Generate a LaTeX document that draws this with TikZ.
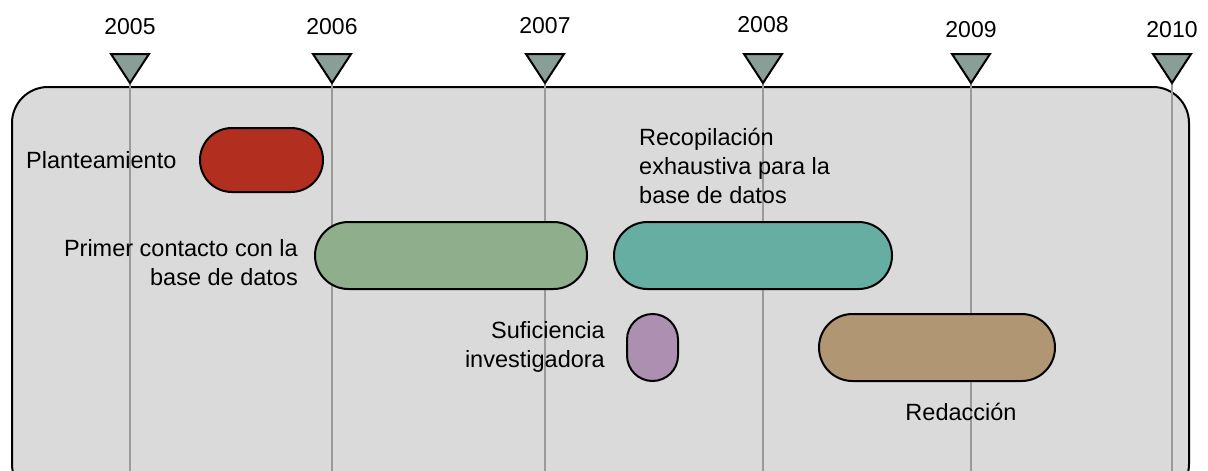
\documentclass[tikz,border=0pt]{standalone}
\usepackage{fontspec}
\setmainfont{Liberation Sans}
\definecolor{panelgray}{HTML}{DADADA}
\definecolor{yline}{HTML}{9A9A9A}
\definecolor{trifill}{HTML}{8A9E98}
\definecolor{cred}{HTML}{B22F1F}
\definecolor{cgreen}{HTML}{8FAE8C}
\definecolor{cteal}{HTML}{66AEA1}
\definecolor{cpurple}{HTML}{AD90B1}
\definecolor{ctan}{HTML}{B09673}
\begin{document}
\begin{tikzpicture}[x=1pt,y=-1pt,
  bar/.style={draw=black,line width=2pt,inner sep=0pt},
  lbl/.style={font=\fontsize{23.5}{29}\selectfont,inner sep=0pt},
  yearlbl/.style={font=\fontsize{23}{27}\selectfont,inner sep=0pt},
  tri/.style={draw=black,line width=2pt,fill=trifill,line join=miter},
  yl/.style={draw=yline,line width=2.2pt}]
\useasboundingbox (0,0) rectangle (1208,471);
% panel
\draw[fill=panelgray,line width=2pt,rounded corners=36pt] (12,87) rectangle (1189,500);
% year lines and markers
\foreach \x/\yr/\ty/\n in {130/2005/27/a,332/2006/27/b,545/2007/26/c,763/2008/25/d,971/2009/30/e,1172/2010/30/f}{
  \draw[yl] (\x,84) -- (\x,471);
  \draw[tri] (\x-19,54) -- (\x+19,54) -- (\x,83) -- cycle;
  \node[yearlbl] (y\n) at (\x,\ty) {\yr};
}
% bars
\node[bar,fill=cred,minimum width=123pt,minimum height=64pt,rounded corners=32pt] (plan) at (261.5,160) {};
\node[bar,fill=cgreen,minimum width=272pt,minimum height=67pt,rounded corners=33.5pt] (prim) at (451,255.5) {};
\node[bar,fill=cteal,minimum width=278pt,minimum height=67pt,rounded corners=33.5pt] (reco) at (753,255.5) {};
\node[bar,fill=cpurple,minimum width=51pt,minimum height=67pt,rounded corners=25.5pt] (sufi) at (652.5,347.5) {};
\node[bar,fill=ctan,minimum width=236pt,minimum height=67pt,rounded corners=33.5pt] (reda) at (937,347.5) {};
% labels
\node[lbl,anchor=west] (lplan) at (26,160) {Planteamiento};
\node[lbl,anchor=east,align=right] (lprim) at (298,263) {Primer contacto con la\\base de datos};
\node[lbl,anchor=west,align=left] (lreco) at (639,166) {Recopilación\\exhaustiva para la\\base de datos};
\node[lbl,anchor=east,align=right] (lsufi) at (605,347) {Suficiencia\\investigadora};
\node[lbl] (lreda) at (961,412) {Redacción};
\end{tikzpicture}
\end{document}
